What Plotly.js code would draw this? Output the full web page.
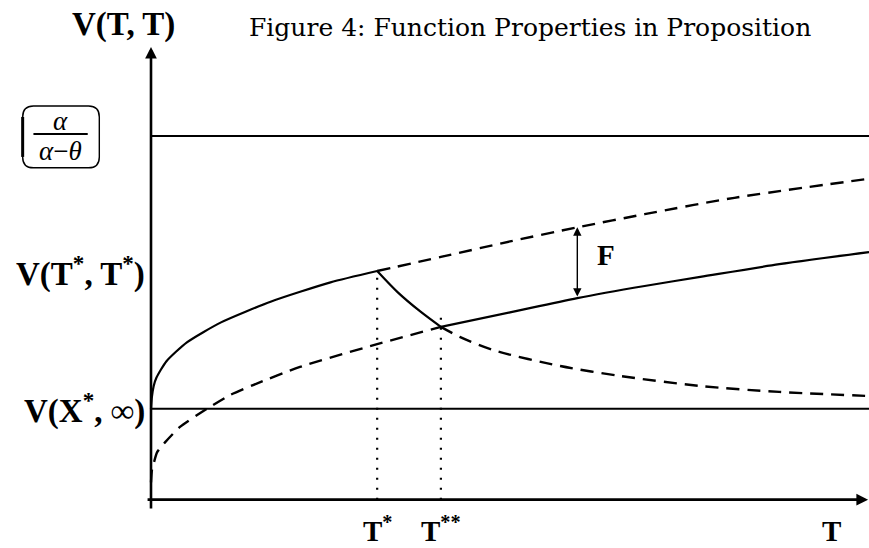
<!DOCTYPE html>
<html>
<head>
<meta charset="utf-8">
<script src="https://cdn.plot.ly/plotly-3.0.1.min.js"></script>
<style>
  html, body { margin: 0; padding: 0; background: #fff; }
  #chart { width: 869px; height: 548px; }
</style>
</head>
<body>
<div id="chart"></div>
<script>
// Key abscissae on the T axis
const tStar = 2.52;      // T*
const tStar2 = 3.23;     // T**
const tEnd = 8.0;

// Horizontal reference levels
const levelTop = 4.0;    // alpha / (alpha - theta)
const levelInf = 1.0;    // V(X*, inf)

// Rising branch V(T,T) before T* (solid) and its continuation (dashed)
const upperSolidX = [0, 0.01, 0.03, 0.06, 0.17, 0.40, 0.78, 1.34, 2.0, 2.52];
const upperSolidY = [1.0, 1.13, 1.25, 1.34, 1.52, 1.73, 1.95, 2.18, 2.39, 2.515];
const upperDashX = [2.52, 3.23, 4.0, 4.75, 5.5, 6.5, 8.0];
const upperDashY = [2.515, 2.67, 2.84, 2.995, 3.14, 3.32, 3.53];

// Lower branch: dashed up to T**, solid afterwards
const lowerDashX = [0, 0.011, 0.033, 0.067, 0.156, 0.323, 0.624, 0.88, 1.137, 1.66, 2.52, 3.23];
const lowerDashY = [0.19, 0.33, 0.41, 0.52, 0.63, 0.80, 1.0, 1.15, 1.26, 1.46, 1.71, 1.90];
const lowerSolidX = [3.23, 4.0, 4.75, 5.5, 6.12, 7.0, 8.0];
const lowerSolidY = [1.90, 2.06, 2.217, 2.35, 2.45, 2.59, 2.723];

// Decreasing branch: solid between T* and T**, dashed afterwards
const decaySolidX = [2.52, 2.75, 3.0, 3.23];
const decaySolidY = [2.515, 2.28, 2.07, 1.90];
const decayDashX = [3.23, 3.44, 3.81, 4.56, 5.23, 6.12, 7.0, 8.0];
const decayDashY = [1.90, 1.79, 1.646, 1.47, 1.36, 1.25, 1.185, 1.14];

// Dotted guides: abscissa and top of each guide
const guideX = [2.52, 3.23];
const guideTop = [2.515, 2.0];

// Position of the F gap arrow
const gapX = 4.75;

// Text
const axisLabelY = 'V(T, T)';
const axisLabelX = 'T';
const tickLabels = ['T<sup>*</sup>', 'T<sup>**</sup>'];
const levelLabels = ['V(T<sup>*</sup>, T<sup>*</sup>)', 'V(X<sup>*</sup>, ∞)'];
const titleText = 'Figure 4: Function Properties in Proposition';

const serif = 'Liberation Serif, Times New Roman, serif';
const titleSerif = 'DejaVu Serif, Liberation Serif, serif';
const ink = '#000';

function yAt(xs, ys, x) {
  const i = xs.indexOf(x);
  return ys[i];
}

const solid = { color: ink, width: 2.2 };
const dashed = { color: ink, width: 2.4, dash: '13px,8px' };
const dotted = { color: ink, width: 2.2, dash: '2px,8px' };

const traces = [
  // horizontal levels
  { x: [0, tEnd], y: [levelTop, levelTop], mode: 'lines', line: solid },
  { x: [0, tEnd], y: [levelInf, levelInf], mode: 'lines', line: solid },
  // dotted guides
  { x: [guideX[0], guideX[0]], y: [0, guideTop[0]], mode: 'lines', line: dotted },
  { x: [guideX[1], guideX[1]], y: [0, guideTop[1]], mode: 'lines', line: dotted },
  // curves
  { x: upperSolidX, y: upperSolidY, mode: 'lines', line: Object.assign({ shape: 'spline', smoothing: 0.6 }, solid) },
  { x: upperDashX, y: upperDashY, mode: 'lines', line: Object.assign({ shape: 'spline', smoothing: 0.8 }, dashed) },
  { x: lowerDashX, y: lowerDashY, mode: 'lines', line: Object.assign({ shape: 'spline', smoothing: 0.6 }, dashed) },
  { x: lowerSolidX, y: lowerSolidY, mode: 'lines', line: Object.assign({ shape: 'spline', smoothing: 0.8 }, solid) },
  { x: decaySolidX, y: decaySolidY, mode: 'lines', line: Object.assign({ shape: 'spline', smoothing: 0.8 }, solid) },
  { x: decayDashX, y: decayDashY, mode: 'lines', line: Object.assign({ shape: 'spline', smoothing: 0.8 }, dashed) }
];

// Rounded box around the fraction label
const bx0 = -1.43, bx1 = -0.576, byT = 4.33, byB = 3.65, rx = 0.12, ry = 0.12;
const boxPath = `M ${bx0 + rx},${byT} L ${bx1 - rx},${byT} Q ${bx1},${byT} ${bx1},${byT - ry} ` +
  `L ${bx1},${byB + ry} Q ${bx1},${byB} ${bx1 - rx},${byB} L ${bx0 + rx},${byB} ` +
  `Q ${bx0},${byB} ${bx0},${byB + ry} L ${bx0},${byT - ry} Q ${bx0},${byT} ${bx0 + rx},${byT} Z`;

const shapes = [
  { type: 'path', path: boxPath, xref: 'x', yref: 'y', line: { color: ink, width: 1.4 } },
  { type: 'line', xref: 'x', yref: 'y', x0: bx0, x1: bx0, y0: byB + 0.12, y1: byT - 0.12, line: { color: ink, width: 3 } },
  { type: 'line', xref: 'x', yref: 'y', x0: -1.31, x1: -0.705, y0: 4.022, y1: 4.022, line: { color: ink, width: 2.2 } }
];

const ann = (o) => Object.assign({ xref: 'x', yref: 'y', showarrow: false, font: { family: serif, size: 32, color: ink } }, o);
const labelFont = { family: serif, size: 29, color: ink };

const annotations = [
  // axes with arrow heads
  { xref: 'x', yref: 'y', axref: 'x', ayref: 'y', x: 7.99, y: 0, ax: -0.055, ay: 0, text: '', showarrow: true,
    arrowhead: 2, arrowsize: 0.9, arrowwidth: 2.6, arrowcolor: ink, standoff: 0 },
  { xref: 'x', yref: 'y', axref: 'x', ayref: 'y', x: 0, y: 4.98, ax: 0, ay: -0.114, text: '', showarrow: true,
    arrowhead: 2, arrowsize: 0.9, arrowwidth: 2.6, arrowcolor: ink, standoff: 0 },
  // F gap arrow
  { xref: 'x', yref: 'y', axref: 'x', ayref: 'y', x: gapX, y: yAt(upperDashX, upperDashY, gapX),
    ax: gapX, ay: yAt(lowerSolidX, lowerSolidY, gapX), text: '', showarrow: true, arrowside: 'end+start',
    arrowhead: 2, arrowsize: 1.2, arrowwidth: 1.4, arrowcolor: ink, standoff: 0, startstandoff: 0 },
  ann({ x: 5.07, y: 2.69, text: '<b>F</b>', font: { family: serif, size: 29, color: ink } }),
  // axis labels
  ann({ x: -0.312, y: 5.225, text: '<b>' + axisLabelY + '</b>', font: { family: serif, size: 33, color: ink } }),
  ann({ x: 7.58, y: -0.35, yanchor: 'middle', text: '<b>' + axisLabelX + '</b>', font: labelFont }),
  ann({ x: tStar, y: -0.32, yanchor: 'middle', text: '<b>' + tickLabels[0] + '</b>', font: labelFont }),
  ann({ x: tStar2, y: -0.32, yanchor: 'middle', text: '<b>' + tickLabels[1] + '</b>', font: labelFont }),
  // level labels
  ann({ x: -0.045, y: upperSolidY[upperSolidY.length - 1], xanchor: 'right', text: '<b>' + levelLabels[0] + '</b>', font: { family: serif, size: 33, color: ink } }),
  ann({ x: -0.045, y: levelInf, xanchor: 'right', text: '<b>' + levelLabels[1] + '</b>', font: { family: serif, size: 33, color: ink } }),
  // fraction alpha / (alpha - theta)
  ann({ x: -1.003, y: 4.17, text: '<i>α</i>', font: { family: serif, size: 27, color: ink } }),
  ann({ x: -1.003, y: 3.83, text: '<i>α</i>−<i>θ</i>', font: { family: serif, size: 27, color: ink } })
];

const layout = {
  width: 869, height: 548,
  margin: { l: 0, r: 0, t: 0, b: 0 },
  paper_bgcolor: '#fff', plot_bgcolor: '#fff',
  showlegend: false,
  title: { text: titleText, x: 249 / 869, xanchor: 'left', y: 1 - 27 / 548, yanchor: 'middle',
           xref: 'container', yref: 'container', font: { family: titleSerif, size: 25, color: ink } },
  xaxis: { range: [-1.6825, 8.0], visible: false, fixedrange: true },
  yaxis: { range: [-0.532, 5.496], visible: false, fixedrange: true },
  shapes: shapes,
  annotations: annotations
};

Plotly.newPlot('chart', traces, layout, { staticPlot: true, displayModeBar: false });
</script>
</body>
</html>
